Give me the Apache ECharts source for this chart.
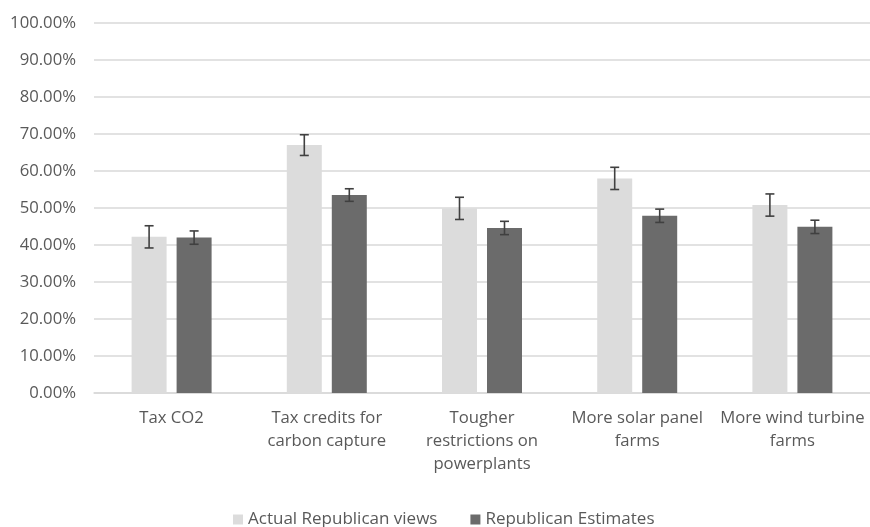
<!DOCTYPE html>
<html><head><meta charset="utf-8">
<script src="https://cdn.jsdelivr.net/npm/echarts@6/dist/echarts.min.js"></script>
<style>html,body{margin:0;padding:0;background:#fff}#c{width:870px;height:527px}</style>
</head><body><div id="c"></div>
<script>
const categories = ["Tax CO2", "Tax credits for\ncarbon capture", "Tougher\nrestrictions on\npowerplants", "More solar panel\nfarms", "More wind turbine\nfarms"];
const actualViews = [0.422, 0.670, 0.499, 0.580, 0.508];
const actualErr = [0.030, 0.028, 0.030, 0.030, 0.030];
const estimates = [0.420, 0.535, 0.446, 0.479, 0.449];
const estimatesErr = [0.018, 0.017, 0.018, 0.018, 0.018];
const yTicks = [0, 0.1, 0.2, 0.3, 0.4, 0.5, 0.6, 0.7, 0.8, 0.9, 1.0];

const FONT = 'Open Sans';
const BAR_W = 35, GAP = 10;
function errSeries(name, vals, errs, sign) {
  return {
    type: 'custom', name: name + ' err', z: 5, silent: true,
    data: vals.map((v, i) => [i, v - errs[i], v + errs[i]]),
    renderItem: function (params, api) {
      const off = sign * (BAR_W + GAP) / 2;
      const lo = api.coord([api.value(0), api.value(1)]);
      const hi = api.coord([api.value(0), api.value(2)]);
      const x = lo[0] + off, cap = 4.5;
      const st = { stroke: '#404040', lineWidth: 1.6 };
      return { type: 'group', children: [
        { type: 'line', shape: { x1: x, y1: lo[1], x2: x, y2: hi[1] }, style: st },
        { type: 'line', shape: { x1: x - cap, y1: lo[1], x2: x + cap, y2: lo[1] }, style: st },
        { type: 'line', shape: { x1: x - cap, y1: hi[1], x2: x + cap, y2: hi[1] }, style: st }
      ]};
    }
  };
}
const chart = echarts.init(document.getElementById('c'));
chart.setOption({
  animation: false,
  textStyle: { fontFamily: FONT },
  grid: { left: 94, right: -4, top: 23, bottom: 134, containLabel: false },
  legend: {
    top: 506, left: 228, itemWidth: 10, itemHeight: 10, itemGap: 33,
    icon: 'rect',
    data: ['Actual Republican views', 'Republican Estimates'],
    textStyle: { fontFamily: FONT, fontSize: 17, color: '#595959' }
  },
  xAxis: {
    type: 'category', data: categories,
    axisLine: { lineStyle: { color: '#d9d9d9', width: 1.5 } },
    axisTick: { show: false },
    axisLabel: { fontFamily: FONT, fontSize: 16.7, color: '#595959', lineHeight: 23, margin: 14, interval: 0 }
  },
  yAxis: {
    type: 'value', min: 0, max: 1, interval: 0.1,
    axisLine: { show: false }, axisTick: { show: false },
    splitLine: { lineStyle: { color: '#d9d9d9', width: 1.5 } },
    axisLabel: { fontFamily: FONT, fontSize: 16.7, color: '#595959', margin: 18,
      formatter: v => (v * 100).toFixed(2) + '%' }
  },
  series: [
    { type: 'bar', name: 'Actual Republican views', data: actualViews, barWidth: BAR_W, barGap: (GAP / BAR_W * 100) + '%',
      itemStyle: { color: '#dcdcdc' } },
    { type: 'bar', name: 'Republican Estimates', data: estimates, barWidth: BAR_W,
      itemStyle: { color: '#6b6b6b' } },
    errSeries('Actual Republican views', actualViews, actualErr, -1),
    errSeries('Republican Estimates', estimates, estimatesErr, 1)
  ]
});
</script></body></html>
